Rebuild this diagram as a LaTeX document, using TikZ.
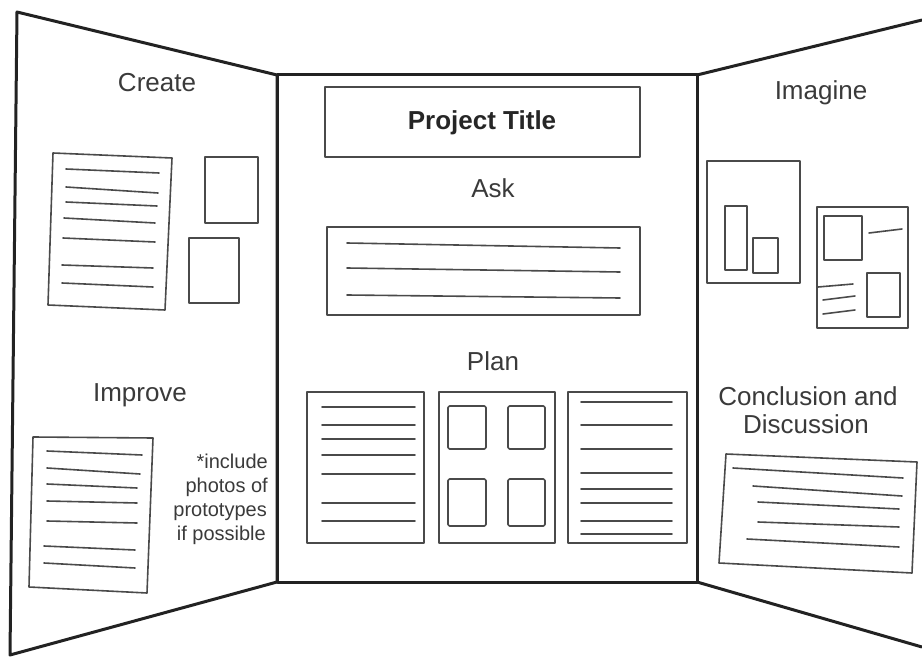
\documentclass[tikz,border=0pt]{standalone}
\usepackage{fontspec}
\setmainfont{Liberation Sans}
\usepackage{tikz}
\definecolor{boardline}{HTML}{222222}
\definecolor{itemline}{HTML}{4A4A4A}
\definecolor{labeltext}{HTML}{3A3A3A}
\tikzstyle{board} = [line width=3pt, draw=boardline, line join=round]
\tikzstyle{item} = [line width=1.6pt, draw=itemline, line join=round]
\tikzstyle{rule} = [line width=1.6pt, draw=itemline, line cap=round]
\tikzstyle{heading} = [anchor=base, inner sep=0pt, text=labeltext, font=\fontsize{26}{30}\selectfont]
\tikzstyle{note} = [anchor=base east, inner sep=0pt, text=labeltext, font=\fontsize{20}{24}\selectfont]

\begin{document}
\begin{tikzpicture}[x=1pt, y=-1pt]
\useasboundingbox (0,0) rectangle (922,658);

% board
\draw [board] (17,12) -- (277,75) -- (277,582) -- (10,655) -- cycle;
\draw [board] (277,75) rectangle (697,582);
\draw [board] (697,75) -- (922,20);
\draw [board] (697,582) -- (922,647);

% left panel
\node (create) [heading] at (157,92) {Create};
\draw [item] (53,153) -- (172,158) -- (165,310) -- (48,305) -- cycle;
\draw [rule] (66,169) -- (159,173);
\draw [rule] (66,187) -- (158,193);
\draw [rule] (66,202) -- (157,206);
\draw [rule] (64,218) -- (155,223);
\draw [rule] (63,238) -- (155,242);
\draw [rule] (62,265) -- (153,268);
\draw [rule] (62,283) -- (153,287);
\draw [item] (205,157) rectangle (258,223);
\draw [item] (189,238) rectangle (239,303);

\node (improve) [heading] at (140,401) {Improve};
\draw [item] (33,437) -- (153,438) -- (147,593) -- (29,587) -- cycle;
\draw [rule] (47,451) -- (142,455);
\draw [rule] (47,468) -- (140,474);
\draw [rule] (47,484) -- (137,488);
\draw [rule] (47,501) -- (137,503);
\draw [rule] (47,521) -- (137,523);
\draw [rule] (44,546) -- (135,550);
\draw [rule] (44,563) -- (135,568);
\node (note_1) [note] at (268,468) {*include};
\node (note_2) [note] at (268,492) {photos of};
\node (note_3) [note] at (267,516) {prototypes};
\node (note_4) [note] at (266,540) {if possible};

% middle panel
\draw [item] (325,87) rectangle (640,157);
\node (title) [heading, font=\fontsize{26}{30}\selectfont\bfseries, text=black!85] at (482,130) {Project Title};
\node (ask) [heading] at (493,198) {Ask};
\draw [item] (327,227) rectangle (640,315);
\draw [rule] (347,243) -- (620,248);
\draw [rule] (347,268) -- (620,272);
\draw [rule] (347,295) -- (620,298);

\node (plan) [heading] at (493,370) {Plan};
\draw [item] (307,392) rectangle (424,543);
\draw [rule] (322,407) -- (415,407);
\draw [rule] (322,425) -- (415,425);
\draw [rule] (322,439) -- (415,439);
\draw [rule] (322,455) -- (415,455);
\draw [rule] (322,474) -- (415,474);
\draw [rule] (322,503) -- (415,503);
\draw [rule] (322,521) -- (415,521);

\draw [item] (439,392) rectangle (555,543);
\draw [item, rounded corners=1.5pt] (448,406) rectangle (486,449);
\draw [item, rounded corners=1.5pt] (508,406) rectangle (545,449);
\draw [item, rounded corners=1.5pt] (448,479) rectangle (486,526);
\draw [item, rounded corners=1.5pt] (508,479) rectangle (545,526);

\draw [item] (568,392) rectangle (687,543);
\draw [rule] (581,402) -- (672,402);
\draw [rule] (581,425) -- (672,425);
\draw [rule] (581,449) -- (672,449);
\draw [rule] (581,473) -- (672,473);
\draw [rule] (581,489) -- (672,489);
\draw [rule] (581,503) -- (672,503);
\draw [rule] (581,521) -- (672,521);
\draw [rule] (581,534) -- (672,534);

% right panel
\node (imagine) [heading] at (821,100) {Imagine};
\draw [item] (707,161) rectangle (800,283);
\draw [item] (725,206) rectangle (747,270);
\draw [item] (753,238) rectangle (778,273);

\draw [item] (817,207) rectangle (908,328);
\draw [item] (824,216) rectangle (862,260);
\draw [item] (867,273) rectangle (900,317);
\draw [rule] (869,233) -- (902,229);
\draw [rule] (818,287) -- (853,284);
\draw [rule] (823,300) -- (855,296);
\draw [rule] (823,314) -- (855,310);

\node (conclusion) [heading] at (808,405) {Conclusion and};
\node (discussion) [heading] at (806,433) {Discussion};
\draw [item] (726,454) -- (917,462) -- (912,573) -- (719,563) -- cycle;
\draw [rule] (733,468) -- (903,478);
\draw [rule] (753,486) -- (902,496);
\draw [rule] (758,502) -- (899,509);
\draw [rule] (758,522) -- (899,527);
\draw [rule] (747,539) -- (899,547);

\end{tikzpicture}
\end{document}
